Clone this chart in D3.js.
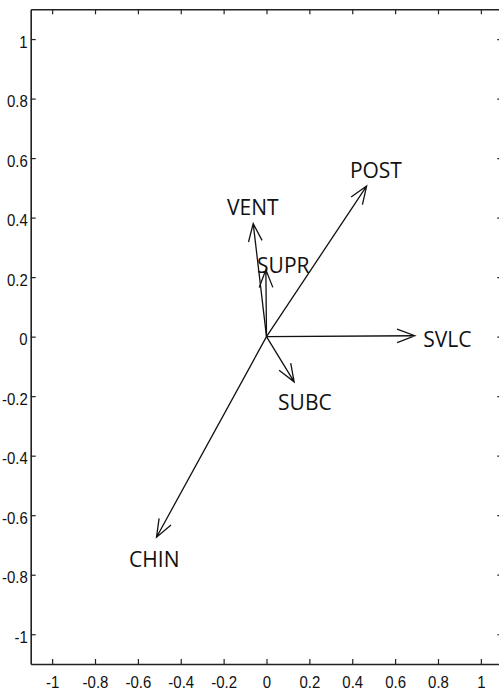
<!DOCTYPE html>
<html>
<head>
<meta charset="utf-8">
<script src="https://cdn.jsdelivr.net/npm/d3@7"></script>
<style>
  body { margin: 0; background: #fff; }
</style>
</head>
<body>
<div id="chart"></div>
<script>
// variable names and loadings (arrow tips)
const names = ["POST", "VENT", "SUPR", "SVLC", "SUBC", "CHIN"];
const comp1 = [0.467, -0.062, -0.003, 0.692, 0.129, -0.513];
const comp2 = [0.506, 0.380, 0.225, 0.003, -0.152, -0.674];
// where each label sits (left edge, baseline) in data units
const labelX = [0.389, -0.184, -0.044, 0.731, 0.054, -0.641];
const labelY = [0.534, 0.410, 0.215, -0.034, -0.247, -0.773];

const tickVals = [-1, -0.8, -0.6, -0.4, -0.2, 0, 0.2, 0.4, 0.6, 0.8, 1];

const w = 499, h = 691;
const padL = 30.7, padR = 502.3, padT = 9.3, padB = 664;

const x = d3.scaleLinear().domain([-1.1, 1.1]).range([padL, padR]);
const y = d3.scaleLinear().domain([-1.1, 1.1]).range([padB, padT]);

const svg = d3.select("#chart").append("svg")
  .attr("width", w)
  .attr("height", h);

const fmt = d => d === 0 ? "0" : String(d);

// axes: ticks point inward, MATLAB style box
const xAxis = d3.axisBottom(x).tickValues(tickVals).tickSizeInner(-5).tickSizeOuter(0).tickPadding(12).tickFormat(fmt);
const yAxis = d3.axisLeft(y).tickValues(tickVals).tickSizeInner(-5).tickSizeOuter(0).tickPadding(3).tickFormat(fmt);
const xTop = d3.axisTop(x).tickValues(tickVals).tickSizeInner(-5).tickSizeOuter(0).tickFormat("");
const yRight = d3.axisRight(y).tickValues(tickVals).tickSizeInner(-5).tickSizeOuter(0).tickFormat("");

function style(g) {
  g.select(".domain").attr("stroke", "#222").attr("stroke-width", 1.6);
  g.selectAll(".tick line").attr("stroke", "#222").attr("stroke-width", 1.2);
  g.selectAll(".tick text")
    .attr("fill", "#111")
    .style("font-family", "Liberation Sans, Arial, sans-serif")
    .style("font-size", "17px");
}

// squeeze tick labels a little, the original font is narrow
function squeeze(g) {
  g.selectAll(".tick text").each(function() {
    const len = this.getComputedTextLength();
    d3.select(this).attr("textLength", len * 0.88).attr("lengthAdjust", "spacingAndGlyphs");
  });
}

svg.append("g").attr("transform", "translate(0," + padB + ")").call(xAxis).call(style).call(squeeze);
svg.append("g").attr("transform", "translate(" + padL + ",0)").call(yAxis).call(style).call(squeeze)
  .selectAll(".tick text").attr("dy", "0.47em");
svg.append("g").attr("transform", "translate(0," + padT + ")").call(xTop).call(style);
svg.append("g").attr("transform", "translate(" + padR + ",0)").call(yRight).call(style);

// arrows
const data = names.map((n, i) => ({ name: n, px: comp1[i], py: comp2[i], lx: labelX[i], ly: labelY[i] }));
const headLen = 19, headAng = 21 * Math.PI / 180;

const arrows = svg.append("g")
  .attr("fill", "none")
  .attr("stroke", "#111")
  .attr("stroke-width", 1.3);

arrows.selectAll("path")
  .data(data)
  .enter()
  .append("path")
  .attr("stroke-linejoin", "miter")
  .attr("d", d => {
    const x0 = x(0), y0 = y(0), x1 = x(d.px), y1 = y(d.py);
    const a = Math.atan2(y1 - y0, x1 - x0);
    const b1x = x1 - headLen * Math.cos(a - headAng), b1y = y1 - headLen * Math.sin(a - headAng);
    const b2x = x1 - headLen * Math.cos(a + headAng), b2y = y1 - headLen * Math.sin(a + headAng);
    return "M" + x0 + "," + y0 + "L" + x1 + "," + y1 +
           "M" + b1x + "," + b1y + "L" + x1 + "," + y1 + "L" + b2x + "," + b2y;
  });

svg.selectAll("text.lbl")
  .data(data)
  .enter()
  .append("text")
  .attr("class", "lbl")
  .attr("x", d => x(d.lx))
  .attr("y", d => y(d.ly))
  .style("font-family", "Open Sans, sans-serif")
  .style("font-size", "21px")
  .attr("fill", "#111")
  .text(d => d.name);
</script>
</body>
</html>
